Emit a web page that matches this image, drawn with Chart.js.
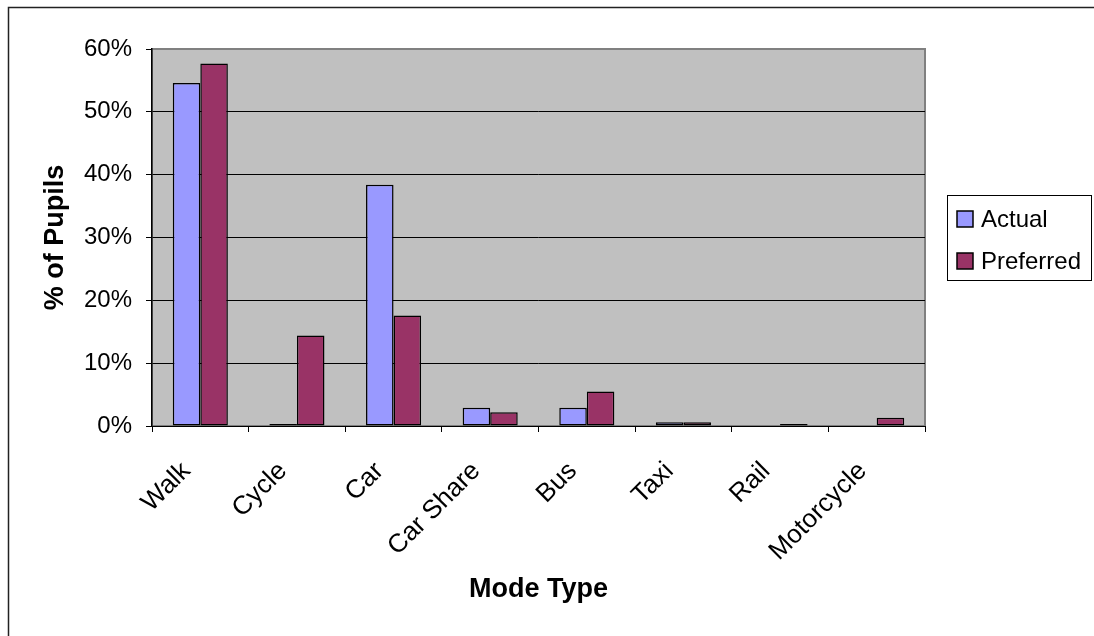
<!DOCTYPE html>
<html>
<head>
<meta charset="utf-8">
<script src="https://cdn.jsdelivr.net/npm/chart.js@4/dist/chart.umd.min.js"></script>
<style>
  html, body { margin: 0; padding: 0; background: #ffffff; }
  #wrap { width: 1094px; height: 636px; position: relative; }
</style>
</head>
<body>
<div id="wrap"><canvas id="c" width="1094" height="636"></canvas></div>
<script>
const categories = ["Walk", "Cycle", "Car", "Car Share", "Bus", "Taxi", "Rail", "Motorcycle"];
const actualValues = [54.6, 0.3, 38.4, 2.9, 2.9, 0.6, 0, 0];
const preferredValues = [57.7, 14.4, 17.6, 2.2, 5.5, 0.6, 0.3, 1.3];
const seriesNames = ["Actual", "Preferred"];
const yTicks = [0, 10, 20, 30, 40, 50, 60];
const xTitle = "Mode Type";
const yTitle = "% of Pupils";

const FONT = "'Liberation Sans', Arial, sans-serif";

const decor = {
  id: 'decor',
  beforeDraw(chart) {
    const ctx = chart.ctx;
    const a = chart.chartArea;
    ctx.save();
    ctx.fillStyle = '#ffffff';
    ctx.fillRect(0, 0, chart.width, chart.height);
    ctx.strokeStyle = '#222222';
    ctx.lineWidth = 1.5;
    ctx.strokeRect(8.5, 7.5, 1200, 800);
    ctx.fillStyle = '#c0c0c0';
    ctx.fillRect(a.left, a.top, a.right - a.left, a.bottom - a.top);
    ctx.strokeStyle = '#808080';
    ctx.lineWidth = 2;
    ctx.strokeRect(a.left, a.top, a.right - a.left, a.bottom - a.top);
    ctx.restore();
  },
  afterDraw(chart) {
    const ctx = chart.ctx;
    ctx.save();
    const bx = 947.5, by = 195.5, bw = 144, bh = 85;
    ctx.fillStyle = '#ffffff';
    ctx.fillRect(bx, by, bw, bh);
    ctx.strokeStyle = '#000000';
    ctx.lineWidth = 1;
    ctx.strokeRect(bx, by, bw, bh);
    ctx.font = "24px " + FONT;
    ctx.textBaseline = 'middle';
    ctx.textAlign = 'left';
    chart.data.datasets.forEach((ds, i) => {
      const cy = 219 + i * 42;
      ctx.fillStyle = ds.backgroundColor;
      ctx.fillRect(957, cy - 8, 16, 16);
      ctx.strokeStyle = '#000000';
      ctx.lineWidth = 1.5;
      ctx.strokeRect(957, cy - 8, 16, 16);
      ctx.fillStyle = '#000000';
      ctx.fillText(ds.label, 981, cy + 1);
    });
    ctx.restore();
  }
};

new Chart(document.getElementById('c'), {
  type: 'bar',
  data: {
    labels: categories,
    datasets: [
      { label: seriesNames[0], data: actualValues, backgroundColor: '#9999ff', borderColor: '#000000', borderWidth: 1.5, borderSkipped: false },
      { label: seriesNames[1], data: preferredValues, backgroundColor: '#993366', borderColor: '#000000', borderWidth: 1.5, borderSkipped: false }
    ]
  },
  options: {
    responsive: false,
    animation: false,
    layout: { padding: { left: 0, top: 49, right: 169, bottom: 0 } },
    plugins: { legend: { display: false }, tooltip: { enabled: false } },
    datasets: { bar: { categoryPercentage: 0.57, barPercentage: 1.0 } },
    scales: {
      x: {
        afterFit(s) { s.height = 210; },
        grid: { offset: true, drawOnChartArea: false, drawTicks: true, tickLength: 6, tickColor: '#000000', color: '#000000' },
        border: { display: true, color: '#000000', width: 1 },
        ticks: { color: '#000000', font: { family: FONT, size: 26 }, minRotation: 45, maxRotation: 45, padding: 24, labelOffset: -14, autoSkip: false },
        title: { display: true, text: xTitle, color: '#000000', font: { family: FONT, size: 27, weight: 'bold' }, padding: { top: 0, bottom: 30 } }
      },
      y: {
        min: 0, max: 60,
        afterFit(s) { s.width = 152; },
        afterBuildTicks(s) { s.ticks = yTicks.map(v => ({ value: v })); },
        grid: {
          color: (c) => (c.tick && c.tick.value === 60) ? '#808080' : '#000000',
          lineWidth: 1, drawTicks: true, tickLength: 6, tickColor: '#000000'
        },
        border: { display: true, color: '#000000', width: 1.5 },
        ticks: { color: '#000000', font: { family: FONT, size: 24 }, padding: 14, callback: (v) => v + '%' },
        title: { display: true, text: yTitle, color: '#000000', font: { family: FONT, size: 27, weight: 'bold' }, padding: { top: 39, bottom: 0 } }
      }
    }
  },
  plugins: [decor]
});
</script>
</body>
</html>
